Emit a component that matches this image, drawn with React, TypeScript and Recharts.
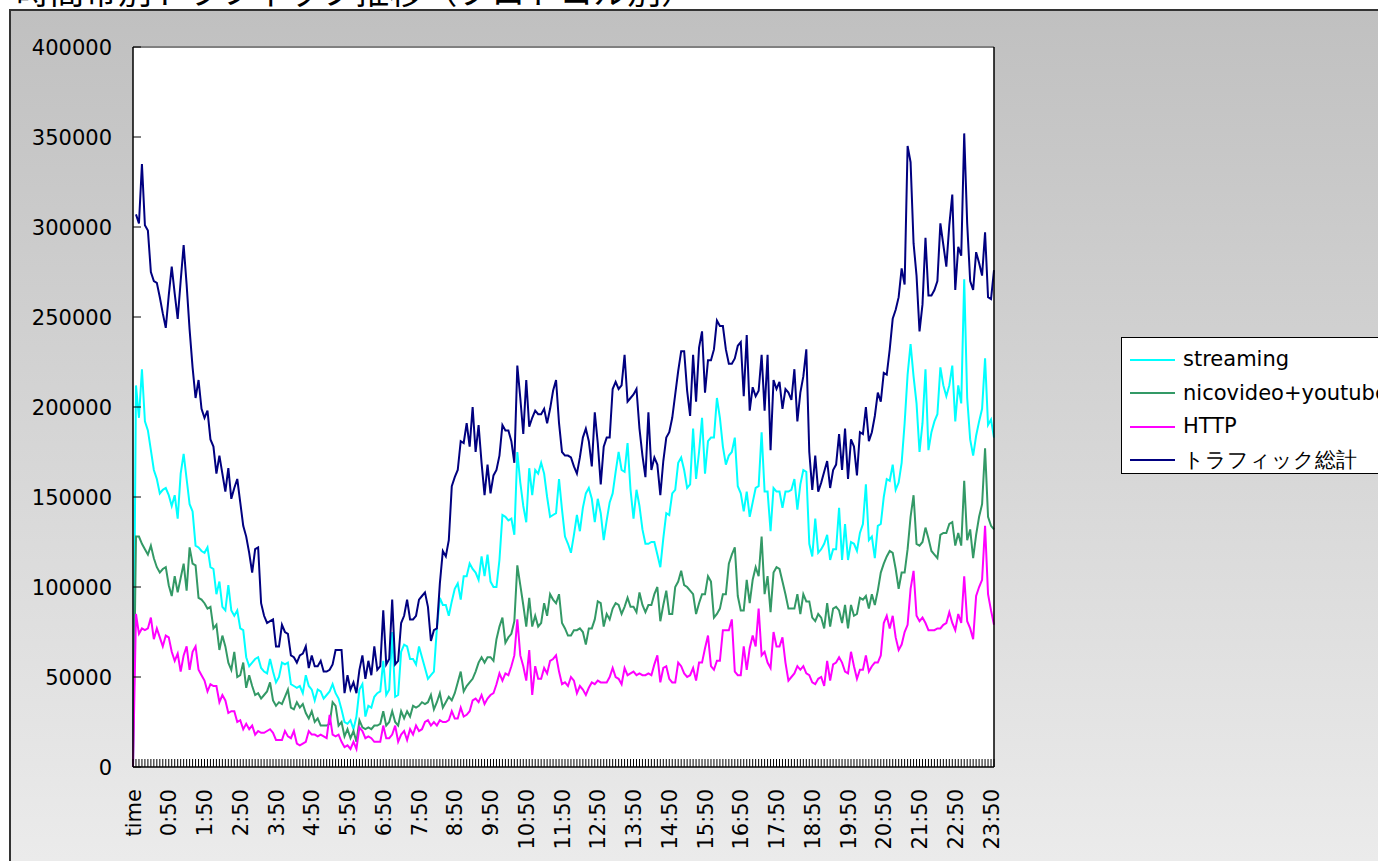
import React from 'react';
import { LineChart, Line, XAxis, YAxis, CartesianGrid, Legend, ReferenceLine } from 'recharts';

// x categories: first row is the "time" header, then one row every 5 minutes
const categories: string[] = [
  'time',
  ...Array.from({ length: 289 }, (_, k) => {
    const m = ((k - 1) * 5 + 1440) % 1440;
    return `${Math.floor(m / 60)}:${String(m % 60).padStart(2, '0')}`;
  }),
];

const yTicks = [0, 50000, 100000, 150000, 200000, 250000, 300000, 350000, 400000];

// one row of 12 values per hour
const streaming = [
  0, 212000, 194000, 221000, 192000, 187000, 176000, 165000, 160000, 152000, 154000, 155000,
  151000, 145000, 151000, 138000, 163000, 174000, 160000, 146000, 142000, 123000, 122000, 120000,
  119000, 122000, 111000, 110000, 96000, 103000, 89000, 87000, 101000, 87000, 84000, 87000,
  77000, 76000, 61000, 56000, 58000, 60000, 61000, 55000, 53000, 52000, 60000, 53000,
  47000, 50000, 58000, 57000, 58000, 46000, 45000, 44000, 45000, 41000, 51000, 45000,
  43000, 37000, 43000, 42000, 38000, 40000, 42000, 46000, 41000, 38000, 32000, 25000,
  24000, 26000, 21000, 28000, 43000, 46000, 28000, 34000, 33000, 39000, 41000, 42000,
  59000, 40000, 43000, 75000, 39000, 40000, 64000, 68000, 67000, 60000, 60000, 57000,
  67000, 61000, 55000, 49000, 51000, 53000, 77000, 94000, 90000, 90000, 84000, 92000,
  99000, 102000, 93000, 106000, 106000, 113000, 110000, 108000, 104000, 117000, 106000, 118000,
  103000, 100000, 100000, 115000, 140000, 139000, 137000, 138000, 129000, 175000, 158000, 145000,
  136000, 166000, 151000, 165000, 163000, 169000, 163000, 150000, 139000, 140000, 141000, 160000,
  143000, 128000, 124000, 119000, 129000, 140000, 131000, 144000, 152000, 155000, 149000, 136000,
  149000, 141000, 126000, 137000, 147000, 152000, 164000, 175000, 165000, 164000, 180000, 154000,
  138000, 154000, 145000, 132000, 124000, 124000, 125000, 125000, 118000, 111000, 127000, 141000,
  140000, 152000, 154000, 169000, 172000, 165000, 155000, 157000, 188000, 160000, 175000, 194000,
  163000, 181000, 183000, 183000, 205000, 194000, 178000, 168000, 173000, 175000, 183000, 156000,
  152000, 142000, 153000, 139000, 147000, 155000, 156000, 186000, 153000, 153000, 131000, 155000,
  153000, 153000, 144000, 153000, 153000, 154000, 160000, 143000, 157000, 165000, 164000, 124000,
  117000, 138000, 119000, 121000, 124000, 129000, 115000, 121000, 121000, 144000, 115000, 135000,
  115000, 125000, 124000, 120000, 130000, 135000, 157000, 126000, 128000, 116000, 134000, 135000,
  150000, 160000, 159000, 168000, 154000, 158000, 169000, 191000, 218000, 235000, 217000, 202000,
  175000, 191000, 221000, 176000, 186000, 192000, 196000, 222000, 212000, 206000, 212000, 223000,
  192000, 212000, 202000, 271000, 205000, 182000, 173000, 184000, 192000, 199000, 227000, 190000,
  193000, 183000,
];

const nicoYoutube = [
  0, 128000, 128000, 124000, 121000, 118000, 123000, 116000, 111000, 108000, 110000, 111000,
  101000, 95000, 106000, 97000, 105000, 113000, 98000, 122000, 113000, 112000, 94000, 93000,
  91000, 88000, 89000, 77000, 79000, 65000, 73000, 67000, 58000, 54000, 64000, 50000,
  51000, 58000, 44000, 51000, 45000, 40000, 41000, 38000, 40000, 42000, 47000, 37000,
  34000, 36000, 35000, 39000, 43000, 33000, 32000, 36000, 33000, 35000, 30000, 27000,
  31000, 25000, 27000, 23000, 23000, 23000, 24000, 36000, 34000, 23000, 25000, 17000,
  21000, 16000, 20000, 14000, 26000, 22000, 21000, 22000, 21000, 23000, 23000, 24000,
  31000, 23000, 25000, 31000, 25000, 23000, 31000, 27000, 31000, 28000, 34000, 33000,
  34000, 36000, 35000, 36000, 40000, 32000, 36000, 41000, 33000, 36000, 39000, 37000,
  41000, 47000, 53000, 42000, 45000, 47000, 49000, 53000, 58000, 61000, 58000, 61000,
  61000, 59000, 71000, 78000, 83000, 69000, 72000, 74000, 81000, 112000, 101000, 90000,
  78000, 94000, 78000, 84000, 78000, 80000, 91000, 84000, 96000, 93000, 91000, 96000,
  80000, 77000, 73000, 73000, 76000, 76000, 77000, 75000, 68000, 77000, 77000, 82000,
  92000, 91000, 78000, 85000, 82000, 88000, 91000, 90000, 85000, 89000, 94000, 89000,
  89000, 86000, 97000, 90000, 86000, 90000, 90000, 96000, 100000, 81000, 90000, 98000,
  85000, 85000, 100000, 103000, 109000, 101000, 100000, 98000, 96000, 85000, 91000, 96000,
  96000, 106000, 103000, 83000, 85000, 88000, 96000, 96000, 113000, 118000, 122000, 95000,
  87000, 87000, 104000, 91000, 104000, 111000, 106000, 128000, 96000, 106000, 86000, 108000,
  111000, 110000, 103000, 96000, 88000, 88000, 88000, 96000, 85000, 96000, 92000, 92000,
  83000, 81000, 85000, 83000, 77000, 91000, 78000, 88000, 89000, 87000, 80000, 90000,
  77000, 90000, 84000, 85000, 94000, 93000, 95000, 88000, 96000, 90000, 98000, 108000,
  113000, 117000, 120000, 119000, 110000, 99000, 108000, 108000, 121000, 139000, 151000, 124000,
  123000, 125000, 133000, 127000, 120000, 118000, 116000, 129000, 130000, 130000, 135000, 136000,
  123000, 130000, 123000, 159000, 126000, 132000, 116000, 129000, 139000, 146000, 177000, 139000,
  134000, 132000,
];

const http = [
  0, 85000, 74000, 77000, 76000, 77000, 83000, 71000, 77000, 72000, 67000, 73000,
  72000, 64000, 59000, 63000, 53000, 62000, 67000, 54000, 64000, 67000, 54000, 51000,
  48000, 42000, 46000, 45000, 45000, 36000, 40000, 37000, 30000, 31000, 31000, 25000,
  26000, 21000, 24000, 21000, 23000, 18000, 20000, 19000, 19000, 20000, 21000, 19000,
  15000, 15000, 15000, 20000, 17000, 16000, 20000, 13000, 12000, 13000, 14000, 20000,
  18000, 18000, 17000, 18000, 17000, 16000, 29000, 18000, 17000, 18000, 14000, 11000,
  12000, 10000, 14000, 10000, 22000, 20000, 16000, 17000, 16000, 14000, 14000, 14000,
  23000, 16000, 16000, 18000, 23000, 14000, 18000, 20000, 15000, 21000, 18000, 23000,
  20000, 21000, 25000, 26000, 23000, 25000, 23000, 26000, 25000, 25000, 26000, 31000,
  27000, 27000, 33000, 28000, 29000, 31000, 37000, 38000, 36000, 40000, 35000, 38000,
  40000, 41000, 46000, 52000, 48000, 52000, 51000, 56000, 62000, 82000, 62000, 56000,
  48000, 65000, 40000, 56000, 49000, 49000, 55000, 52000, 59000, 60000, 62000, 53000,
  46000, 47000, 45000, 50000, 48000, 41000, 45000, 43000, 40000, 44000, 47000, 46000,
  48000, 47000, 47000, 47000, 50000, 55000, 50000, 49000, 46000, 55000, 51000, 52000,
  53000, 51000, 52000, 51000, 51000, 52000, 51000, 57000, 62000, 47000, 55000, 56000,
  49000, 47000, 47000, 58000, 56000, 52000, 50000, 51000, 55000, 48000, 58000, 58000,
  66000, 73000, 56000, 54000, 59000, 59000, 76000, 76000, 76000, 82000, 53000, 51000,
  51000, 67000, 54000, 66000, 73000, 67000, 88000, 62000, 64000, 58000, 55000, 75000,
  67000, 67000, 72000, 58000, 48000, 50000, 52000, 56000, 54000, 56000, 52000, 51000,
  47000, 46000, 49000, 50000, 45000, 59000, 48000, 57000, 58000, 61000, 58000, 53000,
  52000, 64000, 56000, 49000, 54000, 54000, 62000, 53000, 56000, 58000, 58000, 62000,
  80000, 84000, 77000, 84000, 72000, 65000, 68000, 75000, 79000, 99000, 109000, 84000,
  81000, 83000, 80000, 76000, 76000, 76000, 77000, 77000, 79000, 80000, 86000, 80000,
  76000, 85000, 80000, 106000, 81000, 77000, 71000, 95000, 100000, 104000, 134000, 96000,
  87000, 79000,
];

const total = [
  null, 307000, 302000, 335000, 301000, 298000, 275000, 270000, 269000, 261000, 252000, 244000,
  262000, 278000, 263000, 249000, 270000, 290000, 268000, 243000, 222000, 205000, 215000, 199000,
  194000, 198000, 182000, 178000, 163000, 173000, 163000, 153000, 166000, 149000, 155000, 160000,
  147000, 134000, 128000, 119000, 108000, 121000, 122000, 91000, 84000, 80000, 81000, 82000,
  67000, 67000, 79000, 75000, 74000, 62000, 61000, 58000, 62000, 63000, 67000, 55000,
  62000, 56000, 56000, 59000, 53000, 53000, 54000, 57000, 65000, 65000, 65000, 41000,
  51000, 43000, 47000, 41000, 54000, 62000, 49000, 59000, 51000, 67000, 54000, 56000,
  87000, 57000, 60000, 93000, 57000, 59000, 80000, 84000, 93000, 82000, 82000, 84000,
  93000, 95000, 97000, 89000, 70000, 76000, 77000, 102000, 120000, 117000, 126000, 156000,
  161000, 165000, 181000, 180000, 191000, 178000, 200000, 175000, 190000, 169000, 151000, 168000,
  152000, 162000, 165000, 173000, 190000, 187000, 187000, 181000, 169000, 223000, 205000, 185000,
  215000, 189000, 194000, 198000, 196000, 196000, 199000, 191000, 199000, 209000, 215000, 191000,
  175000, 173000, 173000, 172000, 167000, 163000, 172000, 183000, 188000, 181000, 167000, 197000,
  180000, 157000, 178000, 183000, 183000, 210000, 214000, 210000, 212000, 229000, 203000, 205000,
  207000, 210000, 188000, 173000, 161000, 197000, 165000, 172000, 168000, 151000, 170000, 183000,
  186000, 194000, 207000, 220000, 231000, 231000, 209000, 195000, 229000, 203000, 233000, 242000,
  208000, 226000, 226000, 232000, 248000, 245000, 245000, 232000, 224000, 224000, 227000, 234000,
  236000, 206000, 240000, 198000, 211000, 206000, 209000, 229000, 198000, 229000, 176000, 215000,
  210000, 214000, 199000, 210000, 208000, 204000, 221000, 192000, 208000, 217000, 232000, 175000,
  154000, 173000, 153000, 158000, 164000, 170000, 155000, 165000, 168000, 185000, 165000, 188000,
  160000, 182000, 178000, 162000, 186000, 185000, 200000, 181000, 186000, 195000, 208000, 203000,
  219000, 218000, 232000, 249000, 254000, 261000, 277000, 268000, 345000, 336000, 291000, 273000,
  242000, 257000, 294000, 262000, 262000, 265000, 270000, 302000, 290000, 278000, 301000, 318000,
  265000, 289000, 284000, 352000, 302000, 270000, 265000, 286000, 280000, 273000, 297000, 261000,
  260000, 276000,
];

const series = [
  { key: 'streaming', name: 'streaming', color: '#00ffff' },
  { key: 'nico', name: 'nicovideo+youtube', color: '#339966' },
  { key: 'http', name: 'HTTP', color: '#ff00ff' },
  { key: 'total', name: 'トラフィック総計', color: '#000080' },
];

const data = categories.map((time, i) => ({
  time,
  streaming: streaming[i],
  nico: nicoYoutube[i],
  http: http[i],
  total: total[i],
}));

const FONT = '"DejaVu Sans", sans-serif';

const XTick = (props: any) => {
  const { x, y, index, payload } = props;
  return (
    <g>
      <line x1={x} x2={x} y1={y} y2={y - 8} stroke="#000" strokeWidth={1} />
      {index % 12 === 0 && (
        <text
          transform={`translate(${x},${y + 22}) rotate(-90)`}
          textAnchor="end"
          dy="0.36em"
          fontSize={21}
          fontFamily={FONT}
          fill="#000"
        >
          {payload.value}
        </text>
      )}
    </g>
  );
};

const LeftTick = (props: any) => {
  const { x, y, payload } = props;
  return (
    <g>
      <line x1={x} x2={x + 8} y1={y} y2={y} stroke="#000" />
      <text x={x - 21} y={y} dy="0.36em" textAnchor="end" fontSize={21} fontFamily={FONT} fill="#000">
        {payload.value}
      </text>
    </g>
  );
};

const RightTick = (props: any) => {
  const { x, y, payload } = props;
  return (
    <g>
      <line x1={x} x2={x - 8} y1={y} y2={y} stroke="#000" />
      <text x={x + 23} y={y} dy="0.36em" textAnchor="start" fontSize={21} fontFamily={FONT} fill="#000">
        {payload.value}
      </text>
    </g>
  );
};

const LegendBox = () => (
  <div
    style={{
      width: 300,
      height: 137,
      background: '#fff',
      border: '1px solid #000',
      boxSizing: 'border-box',
      paddingTop: 5,
      fontFamily: FONT,
      fontSize: 21,
      lineHeight: 1,
      color: '#000',
    }}
  >
    {series.map((s) => (
      <div key={s.key} style={{ display: 'flex', alignItems: 'center', height: 33.5 }}>
        <div style={{ width: 45, height: 2, background: s.color, marginLeft: 8, marginRight: 8 }} />
        <span style={{ whiteSpace: 'nowrap' }}>{s.name}</span>
      </div>
    ))}
  </div>
);

export default function App() {
  return (
    <div style={{ position: 'relative', width: 1378, height: 861, overflow: 'hidden', background: '#fff' }}>
      <style>{'body{margin:0}'}</style>
      <svg width={1378} height={12} style={{ position: 'absolute', left: 0, top: 0 }}>
        <text x={16} y={4} fontSize={34} fontFamily='"Noto Sans CJK JP", sans-serif' fill="#000">
          時間帯別トラフィック推移（プロトコル別）
        </text>
      </svg>
      <div
        style={{
          position: 'absolute',
          left: 9,
          top: 9,
          width: 1500,
          height: 1000,
          border: '2px solid #333',
          background: 'linear-gradient(#c0c0c0 0px, #ebebeb 850px)',
        }}
      />
      <div style={{ position: 'absolute', left: 0, top: 0 }}>
        <LineChart width={1378} height={861} data={data} margin={{ top: 47, right: 0, bottom: 0, left: 0 }}>
          <CartesianGrid horizontal={false} vertical={false} fill="#fff" />
          <XAxis
            dataKey="time"
            interval={0}
            tickSize={0}
            tickMargin={0}
            height={94}
            tick={<XTick />}
            axisLine={{ stroke: '#000', strokeWidth: 1.5 }}
          />
          <YAxis
            yAxisId="left"
            domain={[0, 400000]}
            ticks={yTicks}
            width={133}
            tickSize={0}
            tickMargin={0}
            tick={<LeftTick />}
            axisLine={{ stroke: '#000', strokeWidth: 1.5 }}
          />
          <YAxis
            yAxisId="right"
            orientation="right"
            domain={[0, 400000]}
            ticks={yTicks}
            width={384}
            tickSize={0}
            tickMargin={0}
            tick={<RightTick />}
            axisLine={{ stroke: '#000', strokeWidth: 1.5 }}
          />
          <ReferenceLine yAxisId="left" y={400000} stroke="#808080" strokeWidth={2} />
          {series.map((s) => (
            <Line
              key={s.key}
              yAxisId="left"
              type="linear"
              dataKey={s.key}
              name={s.name}
              stroke={s.color}
              strokeWidth={2}
              dot={false}
              isAnimationActive={false}
            />
          ))}
          <Legend
            layout="vertical"
            align="center"
            verticalAlign="middle"
            content={<LegendBox />}
            wrapperStyle={{ left: 1121, top: 337, width: 300 }}
          />
        </LineChart>
      </div>
    </div>
  );
}
